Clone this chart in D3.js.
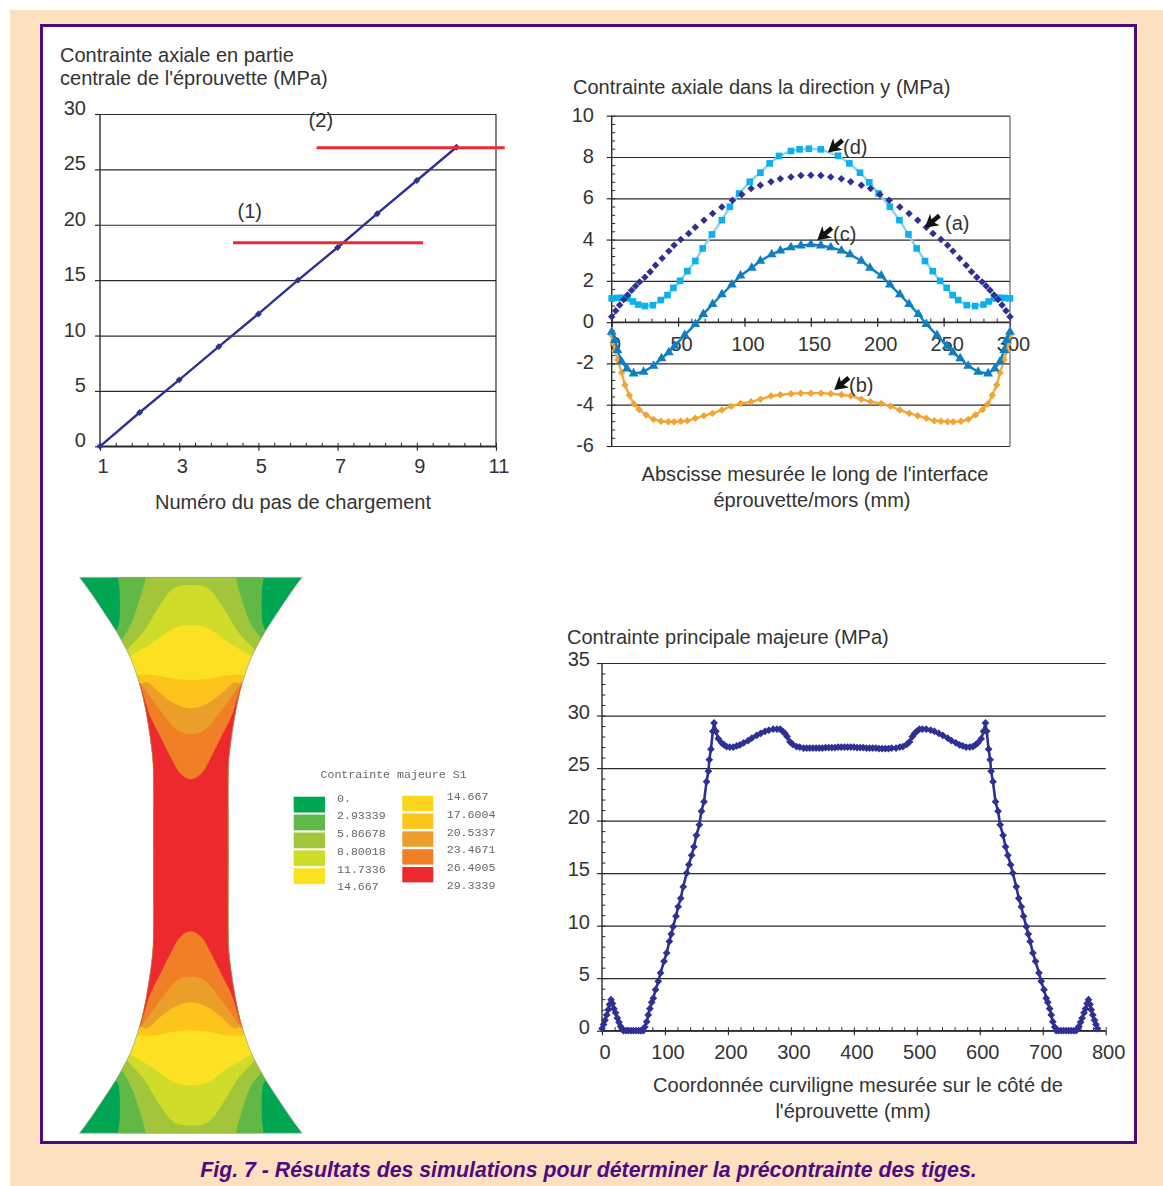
<!DOCTYPE html>
<html><head><meta charset="utf-8">
<style>html,body{margin:0;padding:0;background:#fff}svg{display:block}text{font-family:"Liberation Sans",Arial,sans-serif;fill:#333}</style>
<script src="https://cdnjs.cloudflare.com/ajax/libs/d3/7.8.5/d3.min.js"></script>
</head><body><svg id="c" width="1163" height="1186"></svg>
<script>
// ---- chart 1
const stepNo=[1,2,3,4,5,6,7,8,9,10];
const axialCentral=[0,3.05,6,9,11.95,15,17.95,21,24,27];
const thresholds=[{label:"(1)",value:18.37,from:4.36,to:9.16},{label:"(2)",value:26.95,from:6.47,to:11.22}];
const c1Y=[0,5,10,15,20,25,30], c1X=[1,3,5,7,9,11];
// ---- chart 2
const aX=[0,3,6,9,12,15,18,21,25,29,33,38,43,47,52,58,63,69.5,76,83,91,98,105,112,120,127,135,142.5,150,157.5,165,173,180,188,195,202,209,217,224,230.5,237,242,248,253,257,262,267,271,275,279,282,285,288,291,294,297,300];
const aY=[.26,.55,.83,1.1,1.32,1.55,1.75,1.95,2.17,2.44,2.76,3.1,3.44,3.73,4,4.29,4.6,4.94,5.26,5.58,5.9,6.18,6.47,6.63,6.8,6.95,7.03,7.1,7.12,7.1,7.03,6.95,6.8,6.63,6.47,6.18,5.9,5.58,5.26,4.94,4.6,4.29,4,3.73,3.44,3.1,2.76,2.44,2.17,1.95,1.75,1.55,1.32,1.1,.83,.55,.26];
const dX=[0,4,8,12,16,20,25,31,37,42,46.5,51.5,57,63,68.5,75.5,83,89,96,104,112,119,126,135,141.5,148.5,157.5,170.5,179,187,194,201,209.5,216.7,223.5,229.7,236,241.8,247.3,252.3,256.8,261,267.4,273.7,280,284,288,292,296,300];
const dY=[1.15,1.17,1.18,1.15,1,.85,.78,.82,1.07,1.31,1.66,2,2.47,2.96,3.57,4.25,4.94,5.59,6.23,6.8,7.24,7.69,8.05,8.29,8.37,8.4,8.37,8.06,7.69,7.24,6.77,6.23,5.59,4.94,4.25,3.57,2.96,2.47,2,1.66,1.31,1.07,.82,.78,.85,1,1.15,1.18,1.17,1.15];
const cX=[0,2.5,4.3,7.5,11.5,16.5,24,31.5,37.5,43,47.5,55,63,69,76,83,90.5,97,105.5,112,120.5,127,135,142.5,150,157.5,165,173,179.5,188,194.5,203,209.5,217,224,231,237,245,252.5,257,262.5,268.5,276,283.5,288.5,292.5,295.7,297.5,300];
const cY=[-.47,-.87,-1.36,-1.92,-2.25,-2.49,-2.41,-2.12,-1.76,-1.47,-1.15,-.63,-.1,.39,.87,1.34,1.82,2.25,2.63,2.97,3.28,3.46,3.62,3.71,3.76,3.71,3.62,3.46,3.28,2.97,2.63,2.25,1.82,1.34,.87,.39,-.1,-.63,-1.15,-1.47,-1.76,-2.12,-2.41,-2.49,-2.25,-1.92,-1.36,-.87,-.47];
const bX=[0,1.3,2.5,4.5,7.5,10,13.3,16.8,20.6,26,31.4,37,42.7,47,52,57,63,69.5,75.8,83,90,97,105,112,120,127,135,142.4,150,157.6,165,173,180,188,195,203,210,217,224.2,230.5,237,243,248,253,257.3,263,268.6,274,279.4,283.2,286.7,290,292.5,295.5,297.5,298.7,300];
const bY=[-.63,-1.03,-1.39,-1.84,-2.45,-3.05,-3.54,-3.97,-4.23,-4.5,-4.71,-4.8,-4.83,-4.83,-4.8,-4.78,-4.66,-4.53,-4.42,-4.26,-4.07,-3.94,-3.86,-3.73,-3.58,-3.52,-3.47,-3.44,-3.44,-3.44,-3.47,-3.52,-3.58,-3.73,-3.86,-3.94,-4.07,-4.26,-4.42,-4.53,-4.66,-4.78,-4.8,-4.83,-4.83,-4.8,-4.71,-4.5,-4.23,-3.97,-3.54,-3.05,-2.45,-1.84,-1.39,-1.03,-.63];
const notes2=[{t:"(a)",x:235.9,y:4.57,tx:945,ty:230},{t:"(b)",x:167.6,y:-3.29,tx:849,ty:392},{t:"(c)",x:154.8,y:3.97,tx:833,ty:241},{t:"(d)",x:162.9,y:8.22,tx:843,ty:154}];
const c2Y=[-6,-4,-2,0,2,4,6,8,10], c2X=[0,50,100,150,200,250,300];
// ---- chart 3
const majorStress=[[0,.2],[2.5,.6],[4.8,1],[7.5,1.5],[10,2],[12,2.5],[14.3,2.95],[16.5,2.6],[19,2.1],[21.5,1.7],[24.4,1.2],[27,.8],[29.6,.4],[32,.15],[34,0],[38,0],[42,0],[46,0],[50,0],[54,0],[58,0],[62,0],[65.6,0],[68,.35],[71,.86],[73.5,1.5],[76,2.1],[79,2.7],[81.5,3.1],[85,3.9],[89.4,4.7],[93,5.5],[98.5,6.6],[102.7,7.4],[107,8.5],[110,9.2],[113,9.9],[117.5,10.9],[121,11.8],[125,12.6],[129,13.7],[134.5,15],[138,15.8],[142.4,16.7],[146,17.5],[150,18.6],[154.6,19.6],[158,20.9],[162,21.8],[166,23.7],[169,24.7],[170.5,25.8],[173,26.8],[176,28.5],[178,29.3],[181,28.5],[184.7,27.8],[190,27.4],[194,27.2],[198,27.05],[203,27],[208.6,27],[214,27.1],[219,27.2],[225,27.4],[232,27.6],[238,27.85],[245.6,28.1],[252,28.3],[259,28.5],[265,28.6],[272,28.7],[278,28.7],[283,28.7],[287,28.5],[290.6,28.3],[294,28],[298.6,27.5],[303,27.25],[309,27.05],[314,27],[320,26.9],[325,26.9],[330,26.9],[335,26.9],[340,26.9],[345,26.9],[350,26.9],[355,26.95],[360,26.95],[365,26.95],[370,26.95],[375,27],[380,27],[385,27],[390,27],[395,27],[400,27],[405,26.95],[410,26.95],[415,26.95],[420,26.9],[425,26.9],[430,26.9],[435,26.9],[440,26.85],[445,26.85],[450,26.85],[455,26.85],[460,26.9],[467,26.9],[473,27],[478,27.05],[484,27.25],[488.4,27.5],[493,28],[496.4,28.3],[500,28.5],[504,28.7],[509,28.7],[515,28.7],[522,28.6],[528,28.5],[535,28.3],[541.4,28.1],[549,27.85],[555,27.6],[562,27.4],[568,27.2],[573,27.1],[578.4,27],[584,27],[589,27.05],[593,27.2],[597,27.4],[602.3,27.8],[606,28.5],[609,29.3],[611,28.5],[614,26.8],[616.5,25.8],[618,24.7],[621,23.7],[625,21.8],[629,20.9],[632.4,19.6],[637,18.6],[641,17.5],[644.6,16.7],[649,15.8],[652.5,15],[658,13.7],[662,12.6],[666,11.8],[669.5,10.9],[674,9.9],[677,9.2],[680,8.5],[684.3,7.4],[688.5,6.6],[694,5.5],[697.6,4.7],[702,3.9],[705.5,3.1],[708,2.7],[711,2.1],[713.5,1.5],[716,.86],[719,.35],[721.4,0],[725,0],[729,0],[733,0],[737,0],[741,0],[745,0],[749,0],[753,0],[755,.15],[757.4,.4],[760,.8],[762.6,1.2],[765.5,1.7],[768,2.1],[770.5,2.6],[772.7,2.95],[775,2.5],[777,2],[779.5,1.5],[782.2,1],[784.5,.6],[787,.2]];
const c3Y=[0,5,10,15,20,25,30,35], c3X=[0,100,200,300,400,500,600,700,800];
// ---- contour map (half specimen, mirrored for the lower half)
const specimenEdge=[[0,111.5],[10,104],[20,97],[38,85],[55,74],[73,64],[85,58.5],[98,54],[113,49.5],[130,45.7],[145,43],[160,40.7],[183,38],[200,37.5],[216,37.4],[278,37.4]];
const contourColors=["#62b847","#a1c63a","#d0dc2a","#fbe122","#fdc41f","#eb9f2a","#f07f28","#ec2a2f"];
const contourCurves=[
 [[-82,60],[-73,50],[-71,35],[-71,15],[-70,-10],[70,-10],[71,15],[71,35],[73,50],[82,60]],
 [[-78,68],[-69,62],[-60,47],[-52,25],[-45,0],[-44,-10],[44,-10],[45,0],[52,25],[60,47],[70,60],[78,68]],
 [[-72,80],[-64,72.7],[-47,54],[-30.7,27.7],[-17,11],[0,7.7],[17,11],[30.7,27.7],[47,54],[64,72.7],[72,80]],
 [[-68,84],[-60.7,79],[-47,71],[-34,62.7],[-17,51],[0,47.7],[17,51],[34,62.7],[47,71],[60.7,79],[68,84]],
 [[-62,98],[-52,97.7],[-37,97.7],[-20.7,101],[0,103],[20.7,101],[37,97.7],[52,97.7],[62,98]],
 [[-58,109],[-50.7,106.7],[-44,105],[-30.7,116],[-17,126],[0,131],[17,126],[30.7,116],[44,105],[50.7,106.7],[58,109]],
 [[-55,100],[-49,107.7],[-40.7,119],[-27,137.7],[-14,152.7],[0,156.7],[14,152.7],[27,137.7],[40.7,119],[49,107.7],[55,100]],
 [[-54,103],[-50,109],[-47,119],[-40.7,139],[-30.7,159],[-20.7,179],[-10.7,196],[0,202],[10.7,196],[20.7,179],[30.7,159],[40.7,139],[47,119],[50,109],[54,103]]
];
const legendTitle="Contrainte majeure S1";
const legendLeftLabels=["0.","2.93339","5.86678","8.80018","11.7336","14.667"];
const legendRightLabels=["14.667","17.6004","20.5337","23.4671","26.4005","29.3339"];
const legendLeftColors=["#00a651","#62b847","#a1c63a","#d0dc2a","#fbe122"];
const legendRightColors=["#fdd51f","#fdc41f","#eb9f2a","#f07f28","#ec2a2f"];

const svg=d3.select("#c");
const PURPLE="#4f0a82", NAVY="#2e3192", GRID="#2b2b2b", FS=20.05;
const defs=svg.append("defs");
defs.append("filter").attr("id","soft").append("feGaussianBlur").attr("stdDeviation",.6);
svg.append("rect").attr("width",1163).attr("height",1186).attr("fill","#fff");
svg.append("rect").attr("x",10).attr("y",10).attr("width",1153).attr("height",1176).attr("fill","#fde0bd");
svg.append("rect").attr("x",41.5).attr("y",25.5).attr("width",1094).attr("height",1117).attr("fill","#fff").attr("stroke",PURPLE).attr("stroke-width",3);

function label(s,x,y,anchor){return svg.append("text").attr("x",x).attr("y",y).attr("font-size",FS).attr("text-anchor",anchor||"start").text(s);}
function styleAxis(g,w){g.select(".domain").remove();g.selectAll("line").attr("stroke",GRID).attr("stroke-width",w||1.2);g.selectAll("text").remove();}
function frame(x,y,o){
 const [x0,x1]=x.range(),[y0,y1]=y.range();
 svg.append("g").attr("transform",`translate(${x0},0)`).call(d3.axisLeft(y).tickValues(o.yMajor).tickSize(-(x1-x0)).tickSizeOuter(0)).call(styleAxis);
 svg.append("g").attr("transform",`translate(${x0},0)`).call(d3.axisLeft(y).tickValues(o.yMajor).tickSize(o.out||5).tickSizeOuter(0)).call(styleAxis);
 if(o.yMinor)svg.append("g").attr("transform",`translate(${x0},0)`).call(d3.axisRight(y).tickValues(o.yMinor).tickSize(3.5).tickSizeOuter(0)).call(g=>styleAxis(g,1));
 const ax=o.xAxisAt===undefined?y0:y(o.xAxisAt);
 svg.append("g").attr("transform",`translate(0,${ax})`).call(d3.axisBottom(x).tickValues(o.xMajor).tickSize(o.xDown||4.5).tickSizeOuter(0)).call(styleAxis);
 svg.append("g").attr("transform",`translate(0,${ax})`).call(d3.axisTop(x).tickValues(o.xMinor).tickSize(3.5).tickSizeOuter(0)).call(g=>styleAxis(g,1));
 svg.append("line").attr("x1",x0).attr("x2",x0).attr("y1",y0).attr("y2",y1).attr("stroke",GRID).attr("stroke-width",1.4);
 svg.append("line").attr("x1",x0).attr("x2",x1).attr("y1",ax).attr("y2",ax).attr("stroke",GRID).attr("stroke-width",1.4);
}
function yLabels(y,vals,xr,dy){vals.forEach(v=>label(String(v),xr,y(v)+dy,"end"));}
function xLabels(x,vals,base,dx){vals.forEach(v=>label(String(v),x(v)+dx,base,"middle"));}
function rng(a,b,s){const r=[];for(let i=0;a+i*s<=b+1e-9;i++)r.push(+(a+i*s).toFixed(4));return r;}
function series(xs,ys,x,y,o){
 const pts=xs.map((v,i)=>[x(v),y(ys[i])]);
 if(o.line)svg.append("path").attr("d",d3.line()(pts)).attr("fill","none").attr("stroke",o.line).attr("stroke-width",o.lw||2);
 const sym=d3.symbol().type(o.type).size(o.size);
 svg.append("g").selectAll("path").data(pts).join("path").attr("d",sym()).attr("fill",o.color)
  .attr("transform",d=>`translate(${d[0]},${d[1]})${o.rot?" rotate(45)":""}`);
}

// ---- Chart 1
{
 const x=d3.scaleLinear([1,11],[100,496]), y=d3.scaleLinear([0,30],[446.3,114]);
 label("Contrainte axiale en partie",60,62);label("centrale de l'éprouvette (MPa)",60,85);
 frame(x,y,{yMajor:c1Y,xMajor:c1X,xMinor:rng(1,11,.4)});
 svg.append("line").attr("x1",x(11)).attr("x2",x(11)).attr("y1",y(0)).attr("y2",y(30)).attr("stroke",GRID).attr("stroke-width",1.2);
 yLabels(y,c1Y,86,1);xLabels(x,c1X,473,3);
 label("Numéro du pas de chargement",293,509,"middle");
 series(stepNo,axialCentral,x,y,{line:NAVY,lw:2.4,type:d3.symbolSquare,size:24,rot:true,color:NAVY});
 thresholds.forEach(t=>{svg.append("line").attr("x1",x(t.from)).attr("x2",x(t.to)).attr("y1",y(t.value)).attr("y2",y(t.value)).attr("stroke","#ee2a2e").attr("stroke-width",3);});
 label(thresholds[0].label,x(thresholds[0].from)+4.5,218);label(thresholds[1].label,x(thresholds[1].from)-8,127);
}
// ---- Chart 2
{
 const x=d3.scaleLinear([0,300],[611.7,1010]), y=d3.scaleLinear([-6,10],[446,115.7]);
 label("Contrainte axiale dans la direction y (MPa)",573,94);
 frame(x,y,{yMajor:c2Y,yMinor:rng(-6,10,.4),xMajor:c2X,xMinor:rng(0,300,10),xAxisAt:0});
 svg.append("g").attr("transform",`translate(0,${y(0)})`).call(d3.axisTop(x).tickValues(c2X).tickSize(4.5).tickSizeOuter(0)).call(styleAxis);
 svg.append("line").attr("x1",x(300)).attr("x2",x(300)).attr("y1",y(-6)).attr("y2",y(10)).attr("stroke","#666").attr("stroke-width",1.2);
 yLabels(y,c2Y,594,6);xLabels(x,c2X,351,3.5);
 label("Abscisse mesurée le long de l'interface",815,481,"middle");label("éprouvette/mors (mm)",812,507,"middle");
 series(bX,bY,x,y,{line:"#f2a93b",lw:2.4,type:d3.symbolSquare,size:28,rot:true,color:"#f2a330"});
 series(cX,cY,x,y,{line:"#0f7fc1",lw:2.4,type:d3.symbolTriangle,size:42,color:"#0f7fc1"});
 series(dX,dY,x,y,{line:"#8fd2f0",lw:2.5,type:d3.symbolSquare,size:44,color:"#0bb0ee"});
 series(aX,aY,x,y,{type:d3.symbolSquare,size:28,rot:true,color:NAVY});
 notes2.forEach(n=>{
  svg.append("path").attr("d","M0,0L13,-7.5L10.5,-2.3L19,-2.3L19,2.3L10.5,2.3L13,7.5Z").attr("fill","#111")
   .attr("transform",`translate(${x(n.x)},${y(n.y)}) rotate(-40)`);
  label(n.t,n.tx,n.ty);
 });
}
// ---- Chart 3
{
 const x=d3.scaleLinear([0,800],[602,1105.7]), y=d3.scaleLinear([0,35],[1030.7,663]);
 label("Contrainte principale majeure (MPa)",567,644);
 frame(x,y,{yMajor:c3Y,yMinor:rng(0,35,1),xMajor:c3X,xMinor:rng(0,800,20)});
 yLabels(y,c3Y,590,3);xLabels(x,c3X,1059,3);
 label("Coordonnée curviligne mesurée sur le côté de",858,1092,"middle");label("l'éprouvette (mm)",853,1118,"middle");
 series(majorStress.map(d=>d[0]),majorStress.map(d=>d[1]),x,y,{line:NAVY,lw:2.6,type:d3.symbolSquare,size:30,rot:true,color:NAVY});
}
// ---- Contour map
{
 const u=d3.scaleLinear([-111.5,111.5],[79.3,302.3]), v=d3.scaleLinear([0,556],[577.3,1133.3]);
 const curve=d3.line().curve(d3.curveCatmullRom.alpha(.5));
 const left=[],right=[];
 specimenEdge.forEach(d=>{left.push([u(-d[1]),v(d[0])]);right.unshift([u(d[1]),v(d[0])]);});
 const leftFull=left.concat(specimenEdge.slice(0,-1).reverse().map(d=>[u(-d[1]),v(556-d[0])]));
 const rightFull=specimenEdge.slice(0,-1).map(d=>[u(d[1]),v(556-d[0])]).concat(right);
 const outline=curve(leftFull)+curve(rightFull).replace(/^M/,"L")+"Z";
 defs.append("clipPath").attr("id","spec").append("path").attr("d",outline);
 const soft=svg.append("g").attr("filter","url(#soft)");
 const g=soft.append("g").attr("clip-path","url(#spec)");
 g.append("path").attr("d",outline).attr("fill","#00a651");
 [false,true].forEach(flip=>{
  const V=d=>v(flip?556-d:d);
  contourCurves.forEach((c,i)=>{
   const pts=c.map(p=>[u(p[0]),V(p[1])]);
   const close=[[u(130),V(c[0][1])],[u(130),V(280)],[u(-130),V(280)],[u(-130),V(c[0][1])]];
   g.append("path").attr("d",curve(pts)+"L"+close.join("L")+"Z").attr("fill",contourColors[i]);
  });
 });
 g.append("rect").attr("x",u(-60)).attr("width",u(60)-u(-60)).attr("y",v(230)).attr("height",v(326)-v(230)).attr("fill",contourColors[7]);
 soft.append("path").attr("d",outline).attr("fill","none").attr("stroke","#a9a08a").attr("stroke-width",.6);
 // legend
 const lg=svg.append("g").attr("filter","url(#soft)");
 const mono=(s,x,y)=>lg.append("text").attr("x",x).attr("y",y).attr("font-size",11.6).style("font-family","'Liberation Mono',monospace").style("fill","#666").text(s);
 mono(legendTitle,320.5,778);
 const ly=d3.scalePoint(d3.range(6),[797.7,886.3]), ry=d3.scalePoint(d3.range(6),[795.7,885.3]);
 legendLeftLabels.forEach((s,i)=>mono(s,337,ly(i)+4));
 legendRightLabels.forEach((s,i)=>mono(s,446.7,ry(i)+4));
 const sy=d3.scalePoint(d3.range(5),[796.7,868.3]), sr=d3.scalePoint(d3.range(5),[795.7,867]);
 legendLeftColors.forEach((c,i)=>lg.append("rect").attr("x",293.7).attr("y",sy(i)).attr("width",31.3).attr("height",15.8).attr("fill",c));
 legendRightColors.forEach((c,i)=>lg.append("rect").attr("x",402.3).attr("y",sr(i)).attr("width",31).attr("height",15.4).attr("fill",c));
}
svg.append("text").attr("x",588.5).attr("y",1177).attr("text-anchor","middle").attr("font-size",21.3).attr("font-weight","bold").attr("font-style","italic").style("fill",PURPLE).text("Fig. 7 - Résultats des simulations pour déterminer la précontrainte des tiges.");
</script></body></html>
